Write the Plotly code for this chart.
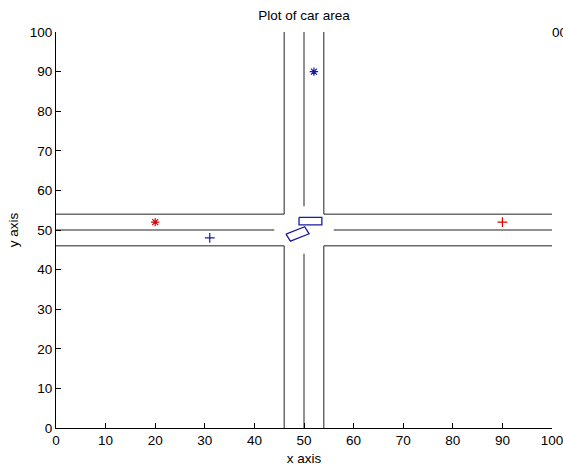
import numpy as np
import plotly.graph_objects as go

# Road edge / centre line segments (x0, x1, y0, y1)
road_segments = [
    (0, 46, 54, 54), (54, 100, 54, 54),
    (0, 46, 46, 46), (54, 100, 46, 46),
    (0, 44, 50, 50), (56, 100, 50, 50),
    (46, 46, 0, 46), (46, 46, 54, 100),
    (54, 54, 0, 46), (54, 54, 54, 100),
    (50, 50, 0, 44), (50, 50, 56, 100),
]

# Cars: centre x, centre y, length, width, angle (deg)
car_cx = [51.3, 48.7]
car_cy = [52.25, 49.0]
car_len = [4.6, 4.2]
car_wid = [1.9, 2.0]
car_ang = [0.0, 26.5]

# Markers
red_star = ([20], [52])
blue_plus = ([31], [48])
blue_star = ([52], [90])
red_plus = ([90], [52])

FONT = "Liberation Sans"
FS = 13.5

rx, ry = [], []
for x0, x1, y0, y1 in road_segments:
    rx += [x0, x1, None]
    ry += [y0, y1, None]

fig = go.Figure()
fig.add_trace(go.Scatter(x=rx, y=ry, mode="lines",
                         line=dict(color="#222222", width=1), hoverinfo="skip"))

for cx, cy, L, W, a in zip(car_cx, car_cy, car_len, car_wid, car_ang):
    t = np.deg2rad(a)
    u = np.array([np.cos(t), np.sin(t)]) * L / 2
    v = np.array([-np.sin(t), np.cos(t)]) * W / 2
    c = np.array([cx, cy])
    pts = [c - u + v, c + u + v, c + u - v, c - u - v, c - u + v]
    fig.add_trace(go.Scatter(x=[p[0] for p in pts], y=[p[1] for p in pts],
                             mode="lines", line=dict(color="#1a1aa0", width=1.3)))

def mark(xy, color, symbol, size):
    fig.add_trace(go.Scatter(x=xy[0], y=xy[1], mode="markers",
                             marker=dict(symbol=symbol, size=size, color=color,
                                         line=dict(color=color, width=1.2))))

mark(red_star, "#e00000", "asterisk-open", 7)
mark(blue_plus, "#1a1aa0", "cross-thin-open", 7)
mark(blue_star, "#1a1aa0", "asterisk-open", 7)
mark(red_plus, "#e00000", "cross-thin-open", 7)

fig.add_annotation(x=99.6, y=100, xref="x", yref="y", text="00", showarrow=False,
                   xanchor="left", yanchor="middle",
                   font=dict(family=FONT, size=FS, color="black"))

axis_common = dict(range=[0, 100], dtick=10, showgrid=False, zeroline=False,
                   showline=True, linecolor="black", linewidth=1, automargin=False,
                   ticks="inside", ticklen=5, tickcolor="black", mirror=False,
                   ticklabeloverflow="allow",
                   tickfont=dict(family=FONT, size=FS, color="black"))

fig.update_layout(
    width=563, height=468,
    margin=dict(l=56, r=11, t=32, b=40),
    paper_bgcolor="white", plot_bgcolor="white",
    showlegend=False,
    font=dict(family=FONT, size=FS, color="black"),
    title=dict(text="Plot of car area", x=0.54, xanchor="center", y=0.968, yanchor="middle",
               font=dict(family=FONT, size=FS, color="black")),
    xaxis=dict(**axis_common, title=dict(text="x axis", standoff=6,
               font=dict(family=FONT, size=FS))),
    yaxis=dict(**axis_common, title=dict(text="y axis", standoff=8,
               font=dict(family=FONT, size=FS))),
)

fig.write_html("out.html")
